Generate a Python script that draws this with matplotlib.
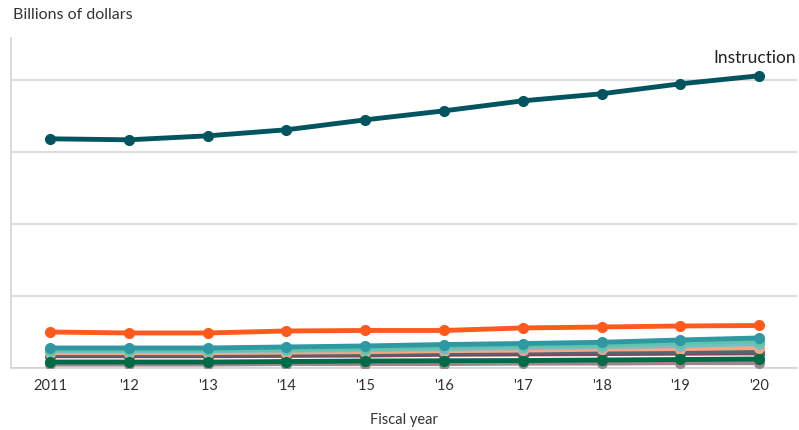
import matplotlib
matplotlib.use("Agg")
import matplotlib.pyplot as plt

plt.rcParams["font.family"] = ["Lato", "DejaVu Sans"]

years = [2011, 2012, 2013, 2014, 2015, 2016, 2017, 2018, 2019, 2020]
year_labels = ["2011", "'12", "'13", "'14", "'15", "'16", "'17", "'18", "'19", "'20"]

# spending by function, billions of dollars
instruction = [318.1, 316.7, 322.2, 330.6, 344.4, 356.9, 370.8, 380.6, 394.4, 405.6]
operations = [50.0, 48.6, 48.6, 51.4, 52.1, 52.1, 55.6, 56.9, 58.3, 59.0]
student_support = [27.8, 27.8, 27.8, 29.2, 30.6, 32.6, 34.0, 35.7, 38.9, 41.7]
instructional_staff = [25.0, 25.0, 25.0, 25.7, 27.1, 29.2, 30.6, 31.9, 34.7, 37.5]
school_admin = [23.6, 23.6, 23.6, 24.3, 25.0, 26.4, 27.8, 29.2, 30.6, 33.3]
transportation = [20.8, 20.8, 20.8, 21.5, 22.2, 23.6, 24.3, 25.7, 26.4, 27.8]
general_admin = [18.1, 18.1, 18.1, 18.8, 19.4, 20.8, 21.5, 22.2, 22.2, 22.9]
other_support = [16.0, 16.0, 16.0, 16.5, 17.0, 18.0, 18.5, 19.0, 19.5, 20.0]
food_services = [8.3, 8.3, 8.3, 9.0, 9.7, 10.1, 10.4, 11.1, 11.8, 12.5]
enterprise = [4.9, 4.9, 4.9, 5.6, 5.6, 5.6, 6.3, 6.3, 6.9, 6.9]

y_ticks = [0, 100, 200, 300, 400]

# drawn back to front
series = [
    (enterprise, "#a08590", 3.0),
    (other_support, "#8a4458", 2.5),
    (general_admin, "#4f6673", 3.0),
    (transportation, "#f6a882", 3.0),
    (school_admin, "#7bbcc6", 3.0),
    (instructional_staff, "#5ec6a6", 3.0),
    (student_support, "#2f98a3", 3.5),
    (food_services, "#006c47", 3.5),
    (operations, "#ff5a1e", 3.5),
    (instruction, "#02555f", 3.5),
]

fig = plt.figure(figsize=(7.99, 4.30), dpi=100)
ax = fig.add_axes([11 / 799, 1 - 368 / 430, 786 / 799, 330 / 430])

for vals, color, lw in series:
    ax.plot(years, vals, color=color, lw=lw, marker="o", ms=7, mec=color, mfc=color,
            solid_capstyle="round", zorder=3)

ax.annotate("Instruction", (years[-1], instruction[-1]), xytext=(-4, 10),
            textcoords="offset pixels", ha="center", va="bottom", fontsize=12.5, color="#222222")

ax.set_xlim(2010.505, 2020.48)
ax.set_ylim(0, 458)
ax.set_xticks(years)
ax.set_xticklabels(year_labels)
ax.set_yticks(y_ticks)
ax.set_yticklabels([str(t) for t in y_ticks])
ax.tick_params(axis="both", length=0, labelsize=10.5, colors="#333333")
ax.tick_params(axis="x", pad=8)
ax.tick_params(axis="y", pad=9)
ax.grid(axis="y", color="#dddddd", lw=1.5, zorder=0)
for side in ["top", "right"]:
    ax.spines[side].set_visible(False)
for side in ["left", "bottom"]:
    ax.spines[side].set_color("#d4d4d4")
    ax.spines[side].set_linewidth(1.2)

ax.set_xlabel("Fiscal year", fontsize=10.5, color="#333333", labelpad=14)
fig.text(13 / 799, 1 - 15 / 430, "Billions of dollars", fontsize=11.5, color="#333333",
         ha="left", va="center")

fig.savefig("out.png", dpi=100)
